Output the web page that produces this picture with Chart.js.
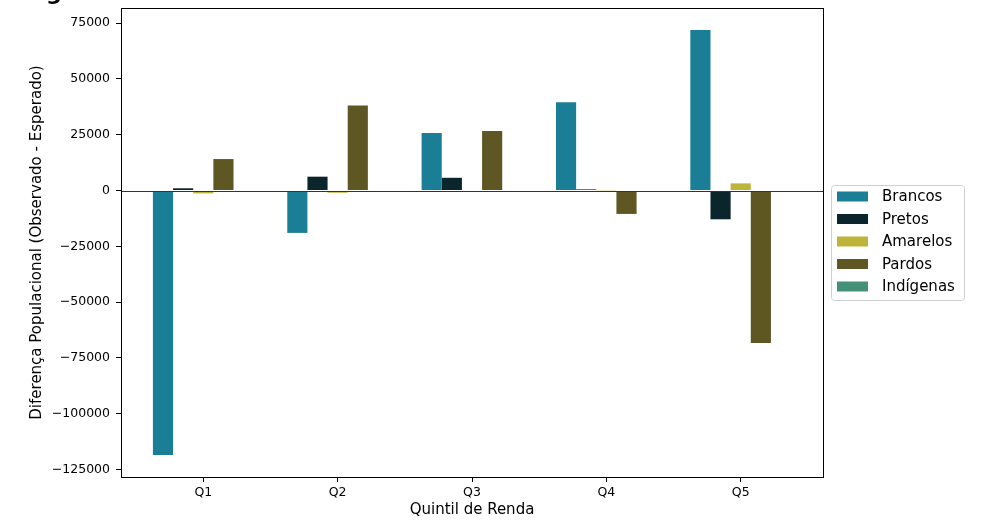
<!DOCTYPE html>
<html>
<head>
<meta charset="utf-8">
<script src="https://cdn.jsdelivr.net/npm/chart.js@4/dist/chart.umd.min.js"></script>
<style>
  html, body { margin: 0; padding: 0; background: #fff; }
  #wrap { width: 983px; height: 522px; position: relative; }
</style>
</head>
<body>
<div id="wrap"><canvas id="c" width="983" height="522"></canvas></div>
<script>
// ---- data ----
const categories = ['Q1', 'Q2', 'Q3', 'Q4', 'Q5'];
const seriesNames = ['Brancos', 'Pretos', 'Amarelos', 'Pardos', 'Indígenas'];
const brancos   = [-118500, -19000, 25800, 39600, 71900];
const pretos    = [1000, 6200, 5700, 500, -12900];
const amarelos  = [-1300, -1000, -300, -100, 3200];
const pardos    = [14100, 38100, 26700, -10500, -68300];
const indigenas = [0, 0, 0, 0, 0];
const yTickValues = [-125000, -100000, -75000, -50000, -25000, 0, 25000, 50000, 75000];
const seriesColors = ['#1a7f96', '#0a252b', '#bfb43a', '#5e5723', '#449177'];

const seriesValues = [brancos, pretos, amarelos, pardos, indigenas];
const FONT = '"DejaVu Sans", sans-serif';

const datasets = seriesValues.map((vals, k) => ({
  label: seriesNames[k],
  data: vals.map((v, i) => ({ x: i, y: v })),
  backgroundColor: seriesColors[k],
  borderWidth: 0,
  categoryPercentage: 0.75,
  barPercentage: 1.0,
  grouped: true
}));

const decorPlugin = {
  id: 'decor',
  afterDatasetsDraw(chart) {
    const { ctx, chartArea: a, scales } = chart;
    const y0 = scales.y.getPixelForValue(0);
    ctx.save();
    // zero line
    ctx.strokeStyle = '#333';
    ctx.lineWidth = 1;
    ctx.beginPath();
    ctx.moveTo(a.left, Math.round(y0) + 0.5);
    ctx.lineTo(a.right, Math.round(y0) + 0.5);
    ctx.stroke();
    // frame
    ctx.strokeStyle = '#000';
    ctx.lineWidth = 1;
    ctx.strokeRect(Math.round(a.left) + 0.5, Math.round(a.top) + 0.5,
                   Math.round(a.right - a.left), Math.round(a.bottom - a.top));
    ctx.restore();
  },
  afterDraw(chart) {
    const { ctx } = chart;
    ctx.save();
    // legend
    const lx = 831, ly = 185, lw = 133, lh = 115;
    ctx.beginPath();
    ctx.roundRect(lx + 0.5, ly + 0.5, lw, lh, 3);
    ctx.fillStyle = 'rgba(255,255,255,0.8)';
    ctx.fill();
    ctx.strokeStyle = '#d0d0d0';
    ctx.lineWidth = 1;
    ctx.stroke();
    ctx.font = '15px ' + FONT;
    ctx.textBaseline = 'middle';
    ctx.textAlign = 'left';
    seriesNames.forEach((name, k) => {
      const cy = 196.5 + k * 22.5;
      ctx.fillStyle = seriesColors[k];
      ctx.fillRect(837, cy - 5, 31, 10);
      ctx.fillStyle = '#000';
      ctx.fillText(name, 882, cy + 1);
    });
    // clipped title fragment
    ctx.font = 'bold 22px ' + FONT;
    ctx.textBaseline = 'alphabetic';
    ctx.fillStyle = '#000';
    ctx.fillText('g', 46, 0);
    ctx.restore();
  }
};

new Chart(document.getElementById('c'), {
  type: 'bar',
  data: { datasets },
  options: {
    responsive: false,
    animation: false,
    devicePixelRatio: 1,
    layout: { padding: { left: 0, top: 8, right: 160, bottom: 0 } },
    plugins: { legend: { display: false }, tooltip: { enabled: false } },
    scales: {
      x: {
        type: 'linear',
        min: -0.6125,
        max: 4.6125,
        offset: false,
        afterFit(s) { s.height = 45; s.paddingLeft = 0; s.paddingRight = 0; },
        afterBuildTicks(s) { s.ticks = categories.map((_, i) => ({ value: i })); },
        ticks: {
          callback: (v) => categories[v] ?? '',
          font: { family: FONT, size: 12.5 },
          color: '#000',
          padding: 3,
          maxRotation: 0,
          autoSkip: false
        },
        grid: { offset: false, drawOnChartArea: false, drawTicks: true, tickLength: 5, tickColor: '#000', color: '#000' },
        border: { display: false },
        title: {
          display: true,
          text: 'Quintil de Renda',
          font: { family: FONT, size: 15 },
          color: '#000',
          padding: { top: 0, bottom: 3 }
        }
      },
      y: {
        min: -128400,
        max: 81800,
        afterFit(s) { s.width = 121; s.paddingTop = 0; s.paddingBottom = 0; },
        afterBuildTicks(s) { s.ticks = yTickValues.map(v => ({ value: v })); },
        ticks: {
          callback: (v) => (v < 0 ? '\u2212' + Math.abs(v) : String(v)),
          font: { family: FONT, size: 12.5 },
          color: '#000',
          padding: 6,
          autoSkip: false
        },
        grid: { drawOnChartArea: false, drawTicks: true, tickLength: 5, tickColor: '#000', color: '#000' },
        border: { display: false },
        title: {
          display: true,
          text: 'Diferença Populacional (Observado - Esperado)',
          font: { family: FONT, size: 15 },
          color: '#000',
          padding: { top: 28, bottom: 0 }
        }
      }
    }
  },
  plugins: [decorPlugin]
});
</script>
</body>
</html>
